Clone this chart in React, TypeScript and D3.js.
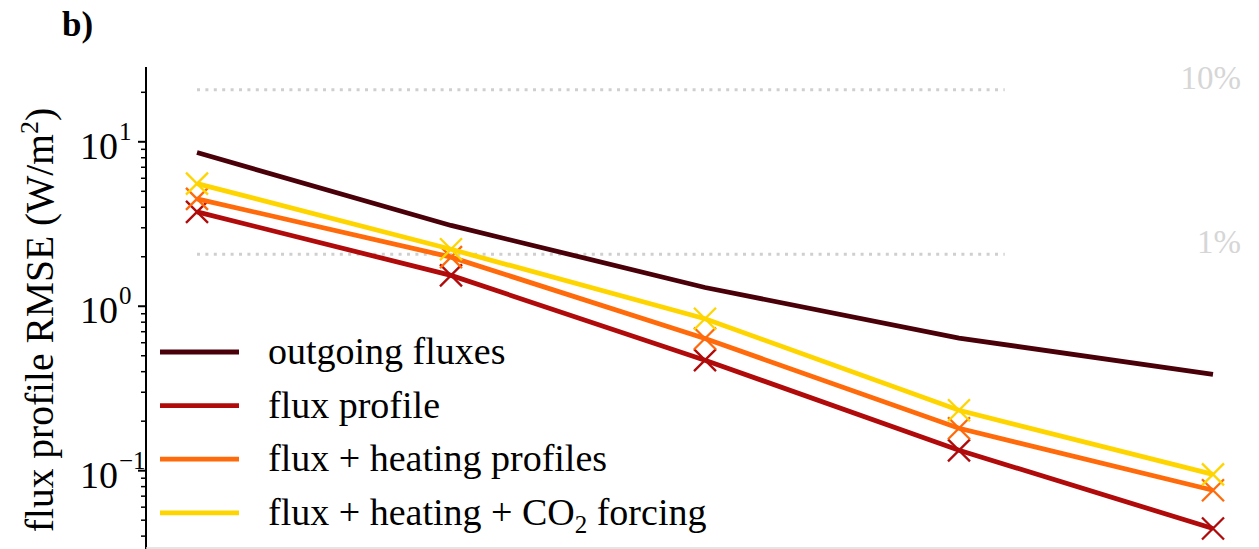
import React from 'react'
import * as d3 from 'd3'

const steps = [0, 1, 2, 3, 4]
const seriesNames = [
  'outgoing fluxes',
  'flux profile',
  'flux + heating profiles',
  'flux + heating + CO2 forcing'
]
const outgoing = [8.6, 3.1, 1.3, 0.64, 0.385]
const fluxProfile = [3.75, 1.54, 0.47, 0.133, 0.0445]
const fluxHeating = [4.5, 1.99, 0.636, 0.181, 0.076]
const fluxHeatingCo2 = [5.57, 2.22, 0.84, 0.233, 0.095]
const seriesValues = [outgoing, fluxProfile, fluxHeating, fluxHeatingCo2]
const seriesMarkers = [false, true, true, true]
const colors = ['#4a0008', '#b00a0a', '#ff6a0a', '#ffd500']
const refLevels = [20.7, 2.07]
const refLabels = ['10%', '1%']
const refSpan = [0, 3.18]
const majorTicks = [0.1, 1, 10]
const majorExp = ['−1', '0', '1']
const minorTicks = [0.04, 0.05, 0.06, 0.07, 0.08, 0.09, 0.2, 0.3, 0.4, 0.5, 0.6, 0.7, 0.8, 0.9, 2, 3, 4, 5, 6, 7, 8, 9, 20]

const W = 1259
const H = 549
const font = '"Liberation Serif", "Times New Roman", serif'

export default function App () {
  const left = 146
  const top = 67
  const bottom = 549
  const x = d3.scaleLinear().domain([0, 4]).range([197, 1213])
  const y = d3.scaleLog().domain([0.0334, 28.5]).range([bottom, top])
  const line = d3.line<number>()
    .x((_, i) => x(steps[i]))
    .y(v => y(v))

  return <div style={{ position: 'absolute', left: 0, top: 0 }}>
    <svg width={W} height={H} style={{ display: 'block', fontFamily: font }}>
      <text x={62} y={36} fontSize={35} fontWeight='bold'>b)</text>

      <text transform={`translate(53,${(top + bottom) / 2 + 12}) rotate(-90)`} textAnchor='middle' fontSize={39.5}>
        flux profile RMSE (W/m<tspan dy={-15} fontSize={26}>2</tspan><tspan dy={15}>)</tspan>
      </text>

      {/* reference lines */}
      {refLevels.map((v, i) => <g key={i}>
        <line x1={x(refSpan[0])} x2={x(refSpan[1])} y1={y(v)} y2={y(v)}
          stroke='#cfcfcf' strokeWidth={3} strokeDasharray='3 5.4' />
        <text x={1241} y={y(v) - 1} textAnchor='end' fontSize={33} fill='#d6d6d6'>{refLabels[i]}</text>
      </g>)}

      {/* series */}
      {seriesValues.map((vals, s) => <g key={s}>
        <path d={line(vals) || ''} fill='none' stroke={colors[s]} strokeWidth={4.8} />
        {seriesMarkers[s] && vals.map((v, i) => {
          const cx = x(steps[i])
          const cy = y(v)
          const r = 11
          return <path key={i} d={`M${cx - r},${cy - r}L${cx + r},${cy + r}M${cx - r},${cy + r}L${cx + r},${cy - r}`}
            stroke={colors[s]} strokeWidth={2.3} fill='none' />
        })}
      </g>)}

      {/* y axis */}
      <line x1={left} x2={left} y1={top} y2={bottom} stroke='#000' strokeWidth={2} />
      <line x1={left} x2={W} y1={bottom - 1} y2={bottom - 1} stroke='#dddddd' strokeWidth={1.5} />
      {minorTicks.map((v, i) => <line key={i} x1={left - 5} x2={left} y1={y(v)} y2={y(v)} stroke='#000' strokeWidth={1.5} />)}
      {majorTicks.map((v, i) => <g key={i} transform={`translate(${left},${y(v)})`}>
        <line x1={-8} x2={0} y1={0} y2={0} stroke='#000' strokeWidth={2} />
        <text x={-28} y={17} textAnchor='end' fontSize={38}>10</text>
        <text x={-27} y={-2} textAnchor='start' fontSize={25}>{majorExp[i]}</text>
      </g>)}

      {/* legend */}
      {seriesNames.map((name, i) => {
        const ly = 352 + i * 53.6
        return <g key={i}>
          <line x1={160} x2={239} y1={ly} y2={ly} stroke={colors[i]} strokeWidth={4.8} />
          <text x={268} y={ly + 12} fontSize={38}>
            {i === 3
              ? <>flux + heating + CO<tspan dy={8} fontSize={25}>2</tspan><tspan dy={-8}> forcing</tspan></>
              : name}
          </text>
        </g>
      })}
    </svg>
  </div>
}
